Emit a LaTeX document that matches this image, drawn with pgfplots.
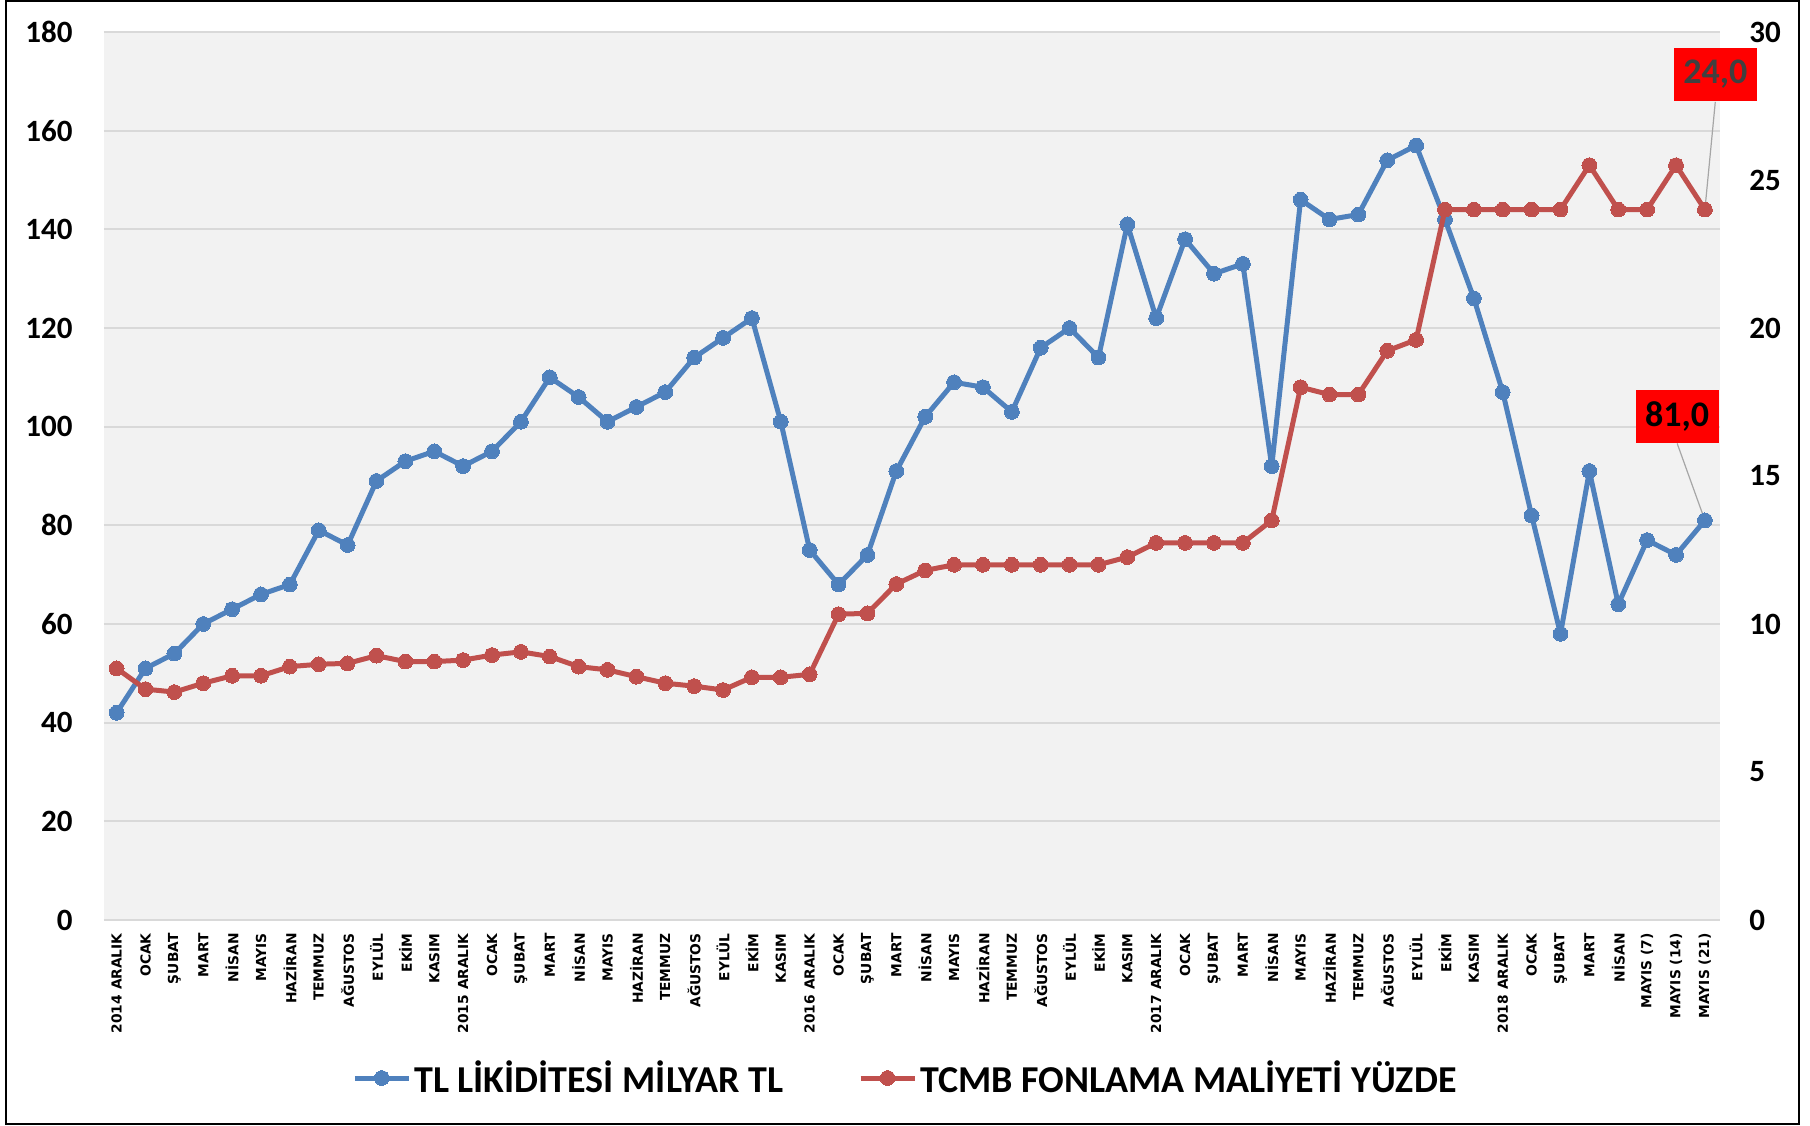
\documentclass[border=0pt]{standalone}
\usepackage{fontspec}
\setmainfont{Carlito}
\newfontfamily\dejavu{DejaVu Sans}
\usepackage{pgfplots}
\pgfplotsset{compat=1.18}
\usepackage{pgfplotstable}
\definecolor{liqblue}{RGB}{79,129,189}
\definecolor{ratered}{RGB}{192,80,77}
\definecolor{plotbg}{RGB}{242,242,242}
\definecolor{gridgray}{RGB}{217,217,217}
\definecolor{labelgray}{RGB}{64,64,64}

% x = month index, liq = TL liquidity (bn TL, left), rate = CBRT funding cost (%, right)
\pgfplotstableread{
x liq rate
0 42 8.50
1 51 7.80
2 54 7.70
3 60 8.00
4 63 8.25
5 66 8.25
6 68 8.56
7 79 8.64
8 76 8.67
9 89 8.93
10 93 8.73
11 95 8.73
12 92 8.78
13 95 8.95
14 101 9.06
15 110 8.90
16 106 8.56
17 101 8.45
18 104 8.22
19 107 8.00
20 114 7.90
21 118 7.77
22 122 8.20
23 101 8.20
24 75 8.30
25 68 10.33
26 74 10.36
27 91 11.35
28 102 11.81
29 109 12.00
30 108 12.00
31 103 12.00
32 116 12.00
33 120 12.00
34 114 12.00
35 141 12.26
36 122 12.74
37 138 12.74
38 131 12.74
39 133 12.74
40 92 13.50
41 146 18.00
42 142 17.75
43 143 17.75
44 154 19.23
45 157 19.60
46 142 24.00
47 126 24.00
48 107 24.00
49 82 24.00
50 58 24.00
51 91 25.50
52 64 24.00
53 77 24.00
54 74 25.50
55 81 24.00
}\datatable

\pgfplotsset{
  common/.style={
    at={(51.95pt,102.5pt)}, anchor=south west,
    scale only axis, width=808pt, height=444pt,
    xmin=-0.44, xmax=55.52,
    tick style={draw=none},
    axis line style={draw=none},
    /pgf/number format/assume math mode=true,
    yticklabel style={font=\bfseries\fontsize{15.5}{16}\selectfont, inner sep=0pt},
  },
  series/.style={#1, line width=2.5pt, line join=round, mark=*, mark size=3.7pt,
    mark options={solid, fill=#1, draw=#1, line width=0pt}},
}

\begin{document}
\begin{tikzpicture}
\path[use as bounding box] (0,0) rectangle (905pt,562.5pt);

\begin{axis}[common,
  ymin=0, ymax=180, ytick={0,20,...,180},
  yticklabel shift=15.5pt,
  ymajorgrids, grid style={gridgray, line width=1pt},
  axis background/.style={fill=plotbg},
  xtick={0,...,55},
  xticklabels={2014 ARALIK, OCAK, ŞUBAT, MART, NİSAN, MAYIS, HAZİRAN, TEMMUZ, AĞUSTOS, EYLÜL, EKİM, KASIM,
    2015 ARALIK, OCAK, ŞUBAT, MART, NİSAN, MAYIS, HAZİRAN, TEMMUZ, AĞUSTOS, EYLÜL, EKİM, KASIM,
    2016 ARALIK, OCAK, ŞUBAT, MART, NİSAN, MAYIS, HAZİRAN, TEMMUZ, AĞUSTOS, EYLÜL, EKİM, KASIM,
    2017 ARALIK, OCAK, ŞUBAT, MART, NİSAN, MAYIS, HAZİRAN, TEMMUZ, AĞUSTOS, EYLÜL, EKİM, KASIM,
    2018 ARALIK, OCAK, ŞUBAT, MART, NİSAN, MAYIS (7), MAYIS (14), MAYIS (21)},
  xticklabel style={font=\dejavu\bfseries\fontsize{6.9}{7}\selectfont, rotate=90, anchor=east, inner sep=0pt},
  xticklabel shift=6.5pt,
  clip=false,
]
\addplot[series=liqblue] table[x=x, y=liq] {\datatable};
\draw[gray!70, line width=0.6pt] (axis cs:54.04,96.6) -- (axis cs:55,81);
\node[fill=red, text=black, font=\bfseries\fontsize{18}{18}\selectfont,
  minimum width=41.5pt, minimum height=26.5pt, inner sep=0pt] at (axis cs:54.04,102.0) {81,0};
\end{axis}

\begin{axis}[common,
  ymin=0, ymax=30, ytick={0,5,...,30},
  axis y line*=right, axis x line=none,
  yticklabel shift=14.5pt,
  clip=false,
  legend columns=2,
  legend style={at={(0.5,0)}, anchor=center, xshift=-3pt, yshift=-79pt,
    draw=none, fill=none, inner sep=0pt,
    font=\bfseries\fontsize{19}{20}\selectfont,
    nodes={inner sep=1.5pt},
    /tikz/every even column/.append style={column sep=36pt}},
  legend cell align=left,
  legend image code/.code={\draw[mark repeat=2, mark phase=2]
    plot coordinates {(0pt,0pt) (13.5pt,0pt) (27pt,0pt)};},
]
\addlegendimage{series=liqblue}
\addlegendentry{TL LİKİDİTESİ MİLYAR TL}
\addplot[series=ratered] table[x=x, y=rate] {\datatable};
\addlegendentry{TCMB FONLAMA MALİYETİ YÜZDE}
\draw[gray!70, line width=0.6pt] (axis cs:55.36,27.64) -- (axis cs:55,24);
\node[fill=red, text=labelgray, font=\bfseries\fontsize{18}{18}\selectfont,
  minimum width=41.5pt, minimum height=26.5pt, inner sep=0pt] at (axis cs:55.36,28.56) {24,0};
\end{axis}

\draw[black, line width=1.15pt] (3.15pt,0.5pt) rectangle (899.65pt,562.15pt);
\end{tikzpicture}
\end{document}
